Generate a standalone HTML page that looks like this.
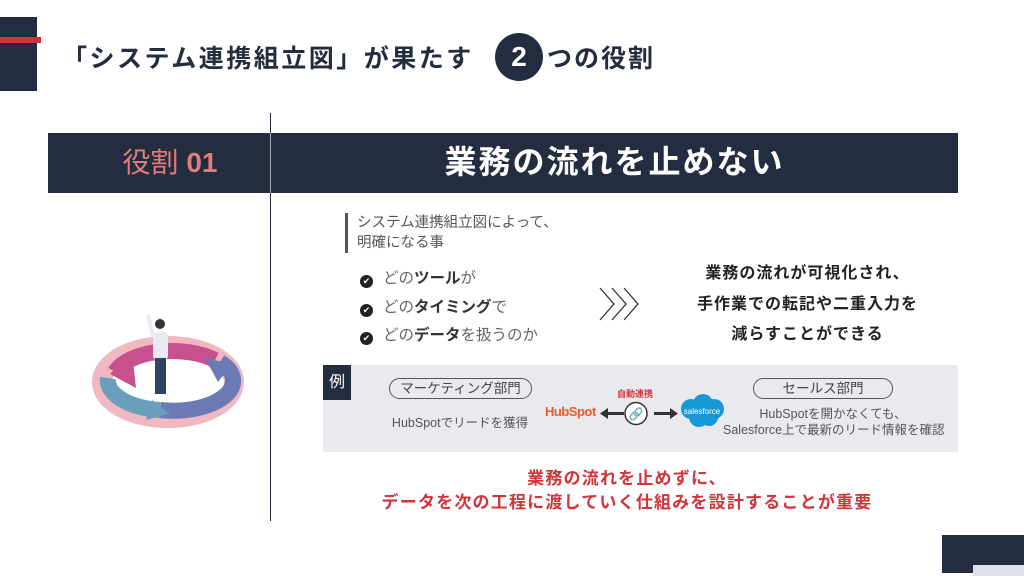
<!DOCTYPE html>
<html><head><meta charset="utf-8"><style>
*{margin:0;padding:0;box-sizing:border-box}
body{width:1024px;height:576px;background:#fff;position:relative;overflow:hidden;font-family:"Liberation Sans","Noto Sans CJK JP",sans-serif;color:#2b2b2b}
.a{position:absolute}
.c{text-align:center;white-space:nowrap}
</style></head><body>
<div class="a" style="left:0;top:17px;width:37px;height:74px;background:#242C40"></div>
<div class="a" style="left:0;top:37px;width:41px;height:6px;background:#D1343A"></div>
<div class="a" style="left:62px;top:39px;font-size:25px;letter-spacing:2.5px;font-weight:bold;color:#242C40;white-space:nowrap">「システム連携組立図」が果たす</div>
<div class="a c" style="left:495px;top:33px;width:48px;height:48px;border-radius:50%;background:#242C40;color:#fff;font-size:28px;font-weight:bold;line-height:48px">2</div>
<div class="a" style="left:547px;top:39px;font-size:25px;letter-spacing:2px;font-weight:bold;color:#242C40;white-space:nowrap">つの役割</div>

<div class="a" style="left:48px;top:133px;width:910px;height:60px;background:#242C40"></div>
<div class="a" style="left:270px;top:113px;width:1px;height:408px;background:#242C40"></div>
<div class="a" style="left:270px;top:133px;width:1px;height:60px;background:#aab"></div>
<div class="a c" style="left:70px;top:143px;width:200px;font-size:28px;color:#E07C7C;line-height:40px">役割 <b>01</b></div>
<div class="a c" style="left:271px;top:141px;width:687px;font-size:32px;letter-spacing:2px;font-weight:bold;color:#fff;line-height:42px">業務の流れを止めない</div>

<svg class="a" style="left:90px;top:310px" width="160" height="130" viewBox="0 0 160 130">
<ellipse cx="78" cy="72" rx="66" ry="36" fill="none" stroke="#F0B8C0" stroke-width="20"/>
<path d="M25 62 A60 30 0 0 1 125 50" fill="none" stroke="#C9508F" stroke-width="16"/>
<polygon points="20,64 42,42 46,78" fill="#C9508F"/>
<path d="M130 52 A60 30 0 0 1 70 100" fill="none" stroke="#6B79B5" stroke-width="16"/>
<polygon points="115,48 142,54 128,72" fill="#6B79B5"/>
<path d="M70 100 A60 30 0 0 1 18 68" fill="none" stroke="#6A9FBB" stroke-width="16"/>
<polygon points="62,90 80,104 56,110" fill="#6A9FBB"/>
<circle cx="70" cy="14" r="5" fill="#333"/>
<rect x="63" y="22" width="15" height="28" rx="4" fill="#E9E9F3"/>
<line x1="63" y1="26" x2="58" y2="5" stroke="#E9E9F3" stroke-width="4"/>
<rect x="65" y="48" width="11" height="36" fill="#2E4465"/>
</svg>

<div class="a" style="left:345px;top:213px;width:3px;height:40px;background:#555"></div>
<div class="a" style="left:357px;top:213px;font-size:14.5px;color:#555;line-height:20px">システム連携組立図によって、<br>明確になる事</div>

<div class="a" style="left:360px;top:265px;font-size:15.5px;color:#666;line-height:28.5px;white-space:nowrap">
<div><span style="display:inline-block;width:13px;height:13px;border-radius:50%;background:#222;color:#fff;font-size:9px;line-height:13px;text-align:center;margin-right:10px;vertical-align:-1px">✔</span>どの<b style="color:#333">ツール</b>が</div>
<div><span style="display:inline-block;width:13px;height:13px;border-radius:50%;background:#222;color:#fff;font-size:9px;line-height:13px;text-align:center;margin-right:10px;vertical-align:-1px">✔</span>どの<b style="color:#333">タイミング</b>で</div>
<div><span style="display:inline-block;width:13px;height:13px;border-radius:50%;background:#222;color:#fff;font-size:9px;line-height:13px;text-align:center;margin-right:10px;vertical-align:-1px">✔</span>どの<b style="color:#333">データ</b>を扱うのか</div>
</div>
<svg class="a" style="left:598px;top:287px" width="46" height="34"><g fill="none" stroke="#333" stroke-width="1.3"><polyline points="2,1 16,17 2,33"/><polyline points="14,1 28,17 14,33"/><polyline points="26,1 40,17 26,33"/></g></svg>
<div class="a c" style="left:670px;top:259px;width:275px;font-size:16px;letter-spacing:1px;font-weight:bold;color:#222;line-height:30.5px">業務の流れが可視化され、<br>手作業での転記や二重入力を<br>減らすことができる</div>

<div class="a" style="left:323px;top:365px;width:635px;height:87px;background:#E9EAEE"></div>
<div class="a c" style="left:323px;top:365px;width:28px;height:35px;background:#242C40;color:#fff;font-size:16px;line-height:35px">例</div>
<div class="a c" style="left:389px;top:378px;width:143px;height:21px;border:1px solid #555;border-radius:11px;font-size:13.5px;line-height:19px;color:#444">マーケティング部門</div>
<div class="a c" style="left:380px;top:412px;width:160px;font-size:12.5px;color:#555">HubSpotでリードを獲得</div>
<div class="a c" style="left:610px;top:387px;width:50px;font-size:9px;font-weight:bold;color:#D1343A">自動連携</div>
<div class="a" style="left:545px;top:404px;font-size:13px;font-weight:bold;color:#F05A28;letter-spacing:-0.5px">HubSpot</div>
<svg class="a" style="left:598px;top:400px" width="82" height="28"><g fill="#333"><rect x="8" y="12" width="18" height="3"/><polygon points="2,13.5 10,8 10,19"/><rect x="56" y="12" width="18" height="3"/><polygon points="80,13.5 72,8 72,19"/></g><circle cx="38" cy="13.5" r="11" fill="#fff" stroke="#333" stroke-width="1.5"/><text x="38" y="18" font-size="12" text-anchor="middle" fill="#222">🔗</text></svg>
<svg class="a" style="left:677px;top:393px" width="50" height="36"><g fill="#1798D7"><circle cx="14" cy="16" r="10"/><circle cx="26" cy="11" r="10"/><circle cx="37" cy="16" r="10"/><circle cx="22" cy="24" r="10"/><circle cx="32" cy="24" r="9"/></g><text x="25" y="21" font-size="8" fill="#fff" text-anchor="middle" font-family="Liberation Sans">salesforce</text></svg>
<div class="a c" style="left:753px;top:378px;width:140px;height:21px;border:1px solid #555;border-radius:11px;font-size:13.5px;line-height:19px;color:#444">セールス部門</div>
<div class="a c" style="left:723px;top:406px;width:220px;font-size:12.5px;color:#555;line-height:16px">HubSpotを開かなくても、<br>Salesforce上で最新のリード情報を確認</div>

<div class="a c" style="left:300px;top:467px;width:654px;font-size:17px;letter-spacing:1.2px;font-weight:bold;color:#D1343A;line-height:24px">業務の流れを止めずに、<br>データを次の工程に渡していく仕組みを設計することが重要</div>

<div class="a" style="left:942px;top:535px;width:82px;height:38px;background:#242C40"></div>
<div class="a" style="left:973px;top:565px;width:51px;height:11px;background:#DEE0E7"></div>
</body></html>
